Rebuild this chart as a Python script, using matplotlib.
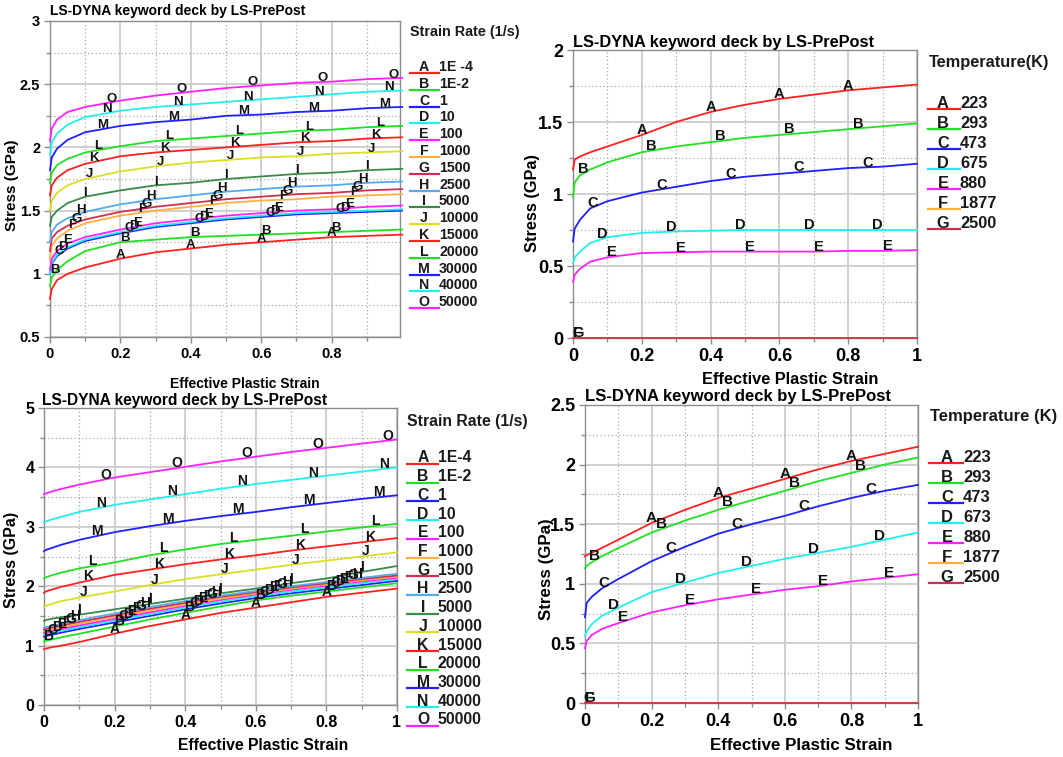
import numpy as np
import matplotlib
matplotlib.use('Agg')
import matplotlib.pyplot as plt
from matplotlib.lines import Line2D
from matplotlib.ticker import FuncFormatter

plt.rcParams['font.family'] = ['Liberation Sans', 'DejaVu Sans']
plt.rcParams['font.weight'] = 'bold'

W, H = 1063, 757

# ---- data ----
STRAIN = [0, 0.005, 0.02, 0.05, 0.1, 0.2, 0.3, 0.4, 0.5, 0.6, 0.7, 0.8, 0.9, 1.0]

LETTERS = list('ABCDEFGHIJKLMNO')
COLORS = ['#ff2020', '#22e022', '#2020ff', '#22eeee', '#ff22ff', '#ffb040', '#d03050',
          '#55aaee', '#3a8a4a', '#dddd22', '#ff2020', '#22e022', '#2020ff', '#22eeee', '#ff22ff']

RATE_LABELS_TOP = ['1E -4', '1E-2', '1', '10', '100', '1000', '1500', '2500', '5000',
                   '10000', '15000', '20000', '30000', '40000', '50000']
RATE_LABELS_BOT = ['1E-4', '1E-2', '1', '10', '100', '1000', '1500', '2500', '5000',
                   '10000', '15000', '20000', '30000', '40000', '50000']
TEMP_LABELS_TOP = ['223', '293', '473', '675', '880', '1877', '2500']
TEMP_LABELS_BOT = ['223', '293', '473', '673', '880', '1877', '2500']

# top-left: strain-rate curves
tl_A = [0.80, 0.88, 0.95, 1.00, 1.05, 1.12, 1.17, 1.20, 1.23, 1.25, 1.27, 1.29, 1.30, 1.31]
tl_B = [0.90, 0.97, 1.03, 1.10, 1.18, 1.25, 1.27, 1.29, 1.30, 1.31, 1.32, 1.33, 1.34, 1.35]
tl_C = [1.00, 1.08, 1.14, 1.20, 1.26, 1.32, 1.37, 1.40, 1.43, 1.45, 1.47, 1.48, 1.49, 1.50]
tl_D = [1.00, 1.09, 1.15, 1.21, 1.27, 1.33, 1.38, 1.41, 1.44, 1.46, 1.48, 1.49, 1.50, 1.51]
tl_E = [1.03, 1.12, 1.18, 1.24, 1.29, 1.35, 1.40, 1.43, 1.46, 1.48, 1.50, 1.51, 1.53, 1.54]
tl_F = [1.12, 1.22, 1.28, 1.34, 1.40, 1.46, 1.50, 1.53, 1.56, 1.58, 1.59, 1.61, 1.62, 1.63]
tl_G = [1.18, 1.28, 1.33, 1.38, 1.43, 1.49, 1.53, 1.56, 1.59, 1.61, 1.63, 1.64, 1.66, 1.67]
tl_H = [1.25, 1.33, 1.39, 1.44, 1.49, 1.55, 1.59, 1.62, 1.65, 1.67, 1.69, 1.70, 1.72, 1.73]
tl_I = [1.38, 1.45, 1.50, 1.56, 1.61, 1.66, 1.70, 1.72, 1.75, 1.77, 1.79, 1.80, 1.82, 1.83]
tl_J = [1.50, 1.58, 1.64, 1.70, 1.75, 1.81, 1.85, 1.88, 1.90, 1.92, 1.93, 1.95, 1.96, 1.97]
tl_K = [1.62, 1.70, 1.76, 1.82, 1.87, 1.93, 1.96, 1.98, 2.00, 2.02, 2.04, 2.05, 2.07, 2.08]
tl_L = [1.72, 1.80, 1.86, 1.91, 1.96, 2.01, 2.05, 2.07, 2.09, 2.11, 2.13, 2.14, 2.16, 2.17]
tl_M = [1.82, 1.92, 1.99, 2.06, 2.12, 2.17, 2.20, 2.22, 2.25, 2.26, 2.28, 2.29, 2.31, 2.32]
tl_N = [1.94, 2.04, 2.11, 2.18, 2.24, 2.29, 2.32, 2.34, 2.36, 2.38, 2.40, 2.42, 2.44, 2.45]
tl_O = [2.05, 2.15, 2.22, 2.28, 2.32, 2.37, 2.41, 2.44, 2.47, 2.49, 2.51, 2.52, 2.54, 2.55]

# top-right: temperature curves (F and G lie on zero)
tr_A = [1.17, 1.24, 1.26, 1.29, 1.33, 1.41, 1.50, 1.57, 1.62, 1.66, 1.69, 1.72, 1.74, 1.76]
tr_B = [0.98, 1.08, 1.13, 1.17, 1.22, 1.29, 1.33, 1.36, 1.39, 1.41, 1.43, 1.45, 1.47, 1.49]
tr_C = [0.67, 0.76, 0.82, 0.90, 0.95, 1.01, 1.05, 1.09, 1.12, 1.14, 1.16, 1.18, 1.19, 1.21]
tr_D = [0.52, 0.56, 0.60, 0.66, 0.70, 0.73, 0.74, 0.745, 0.75, 0.75, 0.75, 0.75, 0.75, 0.75]
tr_E = [0.39, 0.44, 0.48, 0.53, 0.56, 0.59, 0.595, 0.60, 0.60, 0.60, 0.60, 0.605, 0.605, 0.61]
tr_F = [0, 0, 0, 0, 0, 0, 0, 0, 0, 0, 0, 0, 0, 0]
tr_G = [0, 0, 0, 0, 0, 0, 0, 0, 0, 0, 0, 0, 0, 0]

# bottom-left: strain-rate curves
bl_A = [0.94, 0.95, 0.97, 1.00, 1.06, 1.20, 1.33, 1.44, 1.55, 1.64, 1.73, 1.82, 1.89, 1.96]
bl_B = [1.07, 1.08, 1.10, 1.14, 1.20, 1.32, 1.44, 1.55, 1.66, 1.76, 1.84, 1.91, 1.98, 2.05]
bl_C = [1.15, 1.16, 1.18, 1.22, 1.28, 1.39, 1.50, 1.61, 1.71, 1.80, 1.88, 1.95, 2.02, 2.09]
bl_D = [1.18, 1.19, 1.21, 1.25, 1.31, 1.42, 1.53, 1.64, 1.74, 1.83, 1.91, 1.98, 2.05, 2.12]
bl_E = [1.21, 1.22, 1.24, 1.28, 1.34, 1.45, 1.56, 1.67, 1.77, 1.86, 1.94, 2.01, 2.08, 2.14]
bl_F = [1.24, 1.25, 1.27, 1.31, 1.37, 1.48, 1.59, 1.69, 1.79, 1.88, 1.96, 2.03, 2.10, 2.16]
bl_G = [1.27, 1.28, 1.30, 1.34, 1.40, 1.51, 1.62, 1.72, 1.82, 1.90, 1.98, 2.05, 2.12, 2.18]
bl_H = [1.30, 1.31, 1.33, 1.37, 1.43, 1.54, 1.65, 1.75, 1.84, 1.92, 2.00, 2.07, 2.14, 2.21]
bl_I = [1.42, 1.43, 1.45, 1.48, 1.52, 1.61, 1.70, 1.79, 1.88, 1.96, 2.05, 2.13, 2.24, 2.34]
bl_J = [1.65, 1.67, 1.70, 1.75, 1.81, 1.91, 2.02, 2.12, 2.20, 2.28, 2.36, 2.43, 2.50, 2.57]
bl_K = [1.89, 1.91, 1.94, 1.99, 2.06, 2.19, 2.28, 2.37, 2.45, 2.52, 2.60, 2.67, 2.74, 2.81]
bl_L = [2.13, 2.15, 2.18, 2.23, 2.30, 2.40, 2.52, 2.62, 2.71, 2.78, 2.85, 2.92, 2.99, 3.05]
bl_M = [2.59, 2.61, 2.64, 2.70, 2.78, 2.91, 3.01, 3.10, 3.18, 3.25, 3.33, 3.40, 3.47, 3.53]
bl_N = [3.08, 3.09, 3.12, 3.17, 3.25, 3.37, 3.46, 3.55, 3.64, 3.72, 3.79, 3.86, 3.93, 4.00]
bl_O = [3.55, 3.56, 3.59, 3.64, 3.71, 3.83, 3.92, 4.01, 4.10, 4.18, 4.26, 4.33, 4.40, 4.47]

# bottom-right: temperature curves
br_A = [1.23, 1.24, 1.26, 1.30, 1.37, 1.51, 1.62, 1.72, 1.80, 1.88, 1.96, 2.03, 2.09, 2.15]
br_B = [1.13, 1.15, 1.18, 1.23, 1.30, 1.43, 1.53, 1.62, 1.70, 1.78, 1.86, 1.93, 2.00, 2.06]
br_C = [0.72, 0.84, 0.89, 0.96, 1.04, 1.19, 1.31, 1.42, 1.50, 1.57, 1.65, 1.72, 1.78, 1.83]
br_D = [0.56, 0.60, 0.66, 0.73, 0.80, 0.93, 1.01, 1.09, 1.15, 1.21, 1.26, 1.31, 1.37, 1.43]
br_E = [0.46, 0.52, 0.57, 0.62, 0.67, 0.76, 0.82, 0.87, 0.91, 0.95, 0.98, 1.02, 1.05, 1.08]
br_F = [0, 0, 0, 0, 0, 0, 0, 0, 0, 0, 0, 0, 0, 0]
br_G = [0, 0, 0, 0, 0, 0, 0, 0, 0, 0, 0, 0, 0, 0]

rate_top = [tl_A, tl_B, tl_C, tl_D, tl_E, tl_F, tl_G, tl_H, tl_I, tl_J, tl_K, tl_L, tl_M, tl_N, tl_O]
rate_bot = [bl_A, bl_B, bl_C, bl_D, bl_E, bl_F, bl_G, bl_H, bl_I, bl_J, bl_K, bl_L, bl_M, bl_N, bl_O]
temp_top = [tr_A, tr_B, tr_C, tr_D, tr_E, tr_F, tr_G]
temp_bot = [br_A, br_B, br_C, br_D, br_E, br_F, br_G]

TITLE = 'LS-DYNA keyword deck by LS-PrePost'


def fx(px):
    return px / W


def fy(py):
    return 1 - py / H


fig = plt.figure(figsize=(W / 100, H / 100), dpi=100)


def make_axes(l, t, r, b):
    return fig.add_axes([fx(l), fy(b), (r - l) / W, (b - t) / H])


def style_axes(ax, xlim, ylim, ymajor, yminor, xmajor, fs):
    ax.set_xlim(xlim)
    ax.set_ylim(ylim)
    ax.set_xticks(xmajor)
    ax.set_xticks(np.arange(0.1, 1.0, 0.2), minor=True)
    ax.set_yticks(ymajor)
    ax.set_yticks(yminor, minor=True)
    ax.grid(which='major', color='#cdcdcd', lw=1.3, ls='-')
    ax.grid(which='minor', color='#a8a8a8', lw=0.9, ls=(0, (1, 2)))
    ax.set_axisbelow(True)
    for s in ax.spines.values():
        s.set_color('#8c8c8c')
        s.set_linewidth(1.0)
    ax.tick_params(which='both', direction='out', color='#8c8c8c', width=1,
                   labelsize=fs, pad=3)
    ax.tick_params(which='major', length=4)
    ax.tick_params(which='minor', length=3)
    ax.xaxis.set_major_formatter(FuncFormatter(lambda v, _: '%g' % v))
    ax.yaxis.set_major_formatter(FuncFormatter(lambda v, _: '%g' % v))


def draw_curves(ax, curves, n, offsets, fs, xmax):
    for i in range(n):
        ys = curves[i]
        ax.plot(STRAIN, ys, color=COLORS[i], lw=1.3, zorder=3, clip_on=False)
    for i in range(n):
        ys = curves[i]
        if max(ys) == 0:
            continue
        for k in range(5):
            xl = offsets[i] + 0.2 * k
            if xl <= 0 or xl > xmax:
                continue
            yl = np.interp(xl, STRAIN, ys)
            ax.annotate(LETTERS[i], (xl, yl), xytext=(0, 0.5), textcoords='offset points',
                        ha='center', va='baseline', fontsize=fs, fontweight='bold',
                        color='#111111', zorder=4, annotation_clip=False)


def zero_labels(ax, fs):
    # F and G sit on zero; their labels overlap at the start
    for letter in ['F', 'G']:
        ax.annotate(letter, (0.014, 0), xytext=(0, 0.5), textcoords='offset points',
                    ha='center', va='baseline', fontsize=fs, fontweight='bold',
                    color='#111111', zorder=4, annotation_clip=False)


def draw_legend(title, tx, ty, labels, line_x0, line_x1, letter_x, value_x, y0, dy, fs, tfs):
    fig.text(fx(tx), fy(ty), title, ha='left', va='center', fontsize=tfs,
             fontweight='bold', color='#1a1a1a')
    for i, lab in enumerate(labels):
        yc = y0 + i * dy
        fig.add_artist(Line2D([fx(line_x0), fx(line_x1)], [fy(yc + 6)] * 2,
                              color=COLORS[i], lw=1.6))
        fig.text(fx(letter_x), fy(yc), LETTERS[i], ha='center', va='center',
                 fontsize=fs, fontweight='bold', color='#1a1a1a')
        fig.text(fx(value_x), fy(yc), lab, ha='left', va='center',
                 fontsize=fs, fontweight='bold', color='#1a1a1a')


offsets15 = [i * 0.2 / 16 for i in range(15)]
offsets7 = [i * 0.2 / 7 for i in range(7)]

# ---- top-left ----
ax1 = make_axes(50, 21, 400, 337)
style_axes(ax1, (0, 0.994), (0.5, 3), np.arange(0.5, 3.01, 0.5),
           np.arange(0.75, 3, 0.5), [0, 0.2, 0.4, 0.6, 0.8], 10.5)
draw_curves(ax1, rate_top, 15, offsets15, 9.5, 0.994)
fig.text(fx(50), fy(11), TITLE, ha='left', va='center', fontsize=10, fontweight='bold')
fig.text(fx(245), fy(384), 'Effective Plastic Strain', ha='center', va='center', fontsize=10)
fig.text(fx(12), fy(185), 'Stress (GPa)', ha='center', va='center', rotation=90, fontsize=11)
draw_legend('Strain Rate (1/s)', 410, 32, RATE_LABELS_TOP, 410, 439, 424, 439, 67, 16.8, 10.2, 10.4)

# ---- top-right ----
ax2 = make_axes(573, 50, 917, 338)
style_axes(ax2, (0, 1), (0, 2), np.arange(0, 2.01, 0.5),
           np.arange(0.25, 2, 0.5), np.arange(0, 1.01, 0.2), 13)
draw_curves(ax2, temp_top, 7, offsets7, 10.5, 1.0)
zero_labels(ax2, 10.5)
fig.text(fx(573), fy(43), TITLE, ha='left', va='center', fontsize=11.8, fontweight='bold')
fig.text(fx(790), fy(380), 'Effective Plastic Strain', ha='center', va='center', fontsize=11.8)
fig.text(fx(532), fy(203), 'Stress (GPa)', ha='center', va='center', rotation=90, fontsize=11.8)
draw_legend('Temperature(K)', 929, 63, TEMP_LABELS_TOP, 928, 960, 943, 960, 103, 20, 11.8, 11.8)

# ---- bottom-left ----
ax3 = make_axes(44, 408, 397, 705)
style_axes(ax3, (0, 1), (0, 5), np.arange(0, 5.01, 1),
           np.arange(0.5, 5, 1), np.arange(0, 1.01, 0.2), 11.5)
draw_curves(ax3, rate_bot, 15, offsets15, 10, 1.0)
fig.text(fx(42), fy(401), TITLE, ha='left', va='center', fontsize=11.2, fontweight='bold')
fig.text(fx(263), fy(746), 'Effective Plastic Strain', ha='center', va='center', fontsize=11.3)
fig.text(fx(12), fy(560), 'Stress (GPa)', ha='center', va='center', rotation=90, fontsize=11.5)
draw_legend('Strain Rate (1/s)', 407, 422, RATE_LABELS_BOT, 407, 438, 423, 438, 458, 18.7, 11.3, 11.3)

# ---- bottom-right ----
ax4 = make_axes(585, 405, 918, 703)
style_axes(ax4, (0, 1), (0, 2.5), np.arange(0, 2.51, 0.5),
           np.arange(0.25, 2.5, 0.5), np.arange(0, 1.01, 0.2), 13)
draw_curves(ax4, temp_bot, 7, offsets7, 11, 1.0)
zero_labels(ax4, 11)
fig.text(fx(585), fy(397), TITLE, ha='left', va='center', fontsize=12, fontweight='bold')
fig.text(fx(801), fy(745), 'Effective Plastic Strain', ha='center', va='center', fontsize=12.2)
fig.text(fx(546), fy(569), 'Stress (GPa)', ha='center', va='center', rotation=90, fontsize=12.2)
draw_legend('Temperature (K)', 930, 417, TEMP_LABELS_BOT, 929, 963, 947, 963, 457, 20, 12, 12)

fig.savefig('out.png', dpi=100)
